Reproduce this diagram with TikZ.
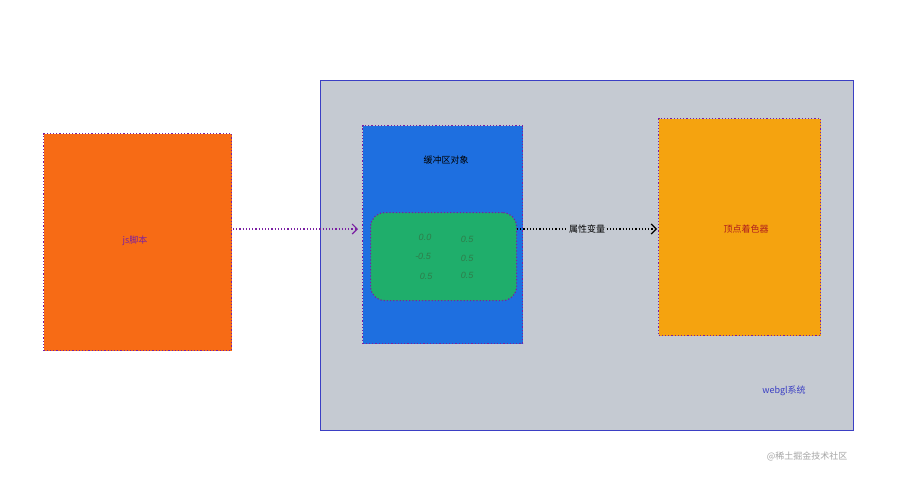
\documentclass[tikz,border=0pt]{standalone}
\usepackage{fontspec}
\setmainfont{Liberation Sans}
\newfontfamily\cjk{Noto Sans CJK SC}
\usetikzlibrary{arrows.meta}
\definecolor{jsor}{HTML}{F76B15}
\definecolor{sysbg}{HTML}{C5CAD2}
\definecolor{sysln}{HTML}{3B3FC4}
\definecolor{bufbl}{HTML}{1E6FE0}
\definecolor{grn}{HTML}{1FAE6B}
\definecolor{shor}{HTML}{F5A30F}
\definecolor{purp}{HTML}{7A1FA2}
\definecolor{numg}{HTML}{2E7D4A}
\tikzset{
 dotbox/.style={draw=purp, line width=1.2pt, dotted},
 num/.style={text=numg, font=\itshape\small},
 lbl/.style={font=\cjk\small}
}
\begin{document}
\begin{tikzpicture}[x=1pt,y=-1pt]
\useasboundingbox[fill=white] (0,0) rectangle (902,483);
\node[draw=sysln, line width=1.2pt, fill=sysbg, minimum width=533, minimum height=350, anchor=north west, inner sep=0] (sys) at (320,80) {};
\node[dotbox, fill=jsor, minimum width=188, minimum height=217, anchor=north west, inner sep=0] (js) at (43,133) {};
\node[dotbox, fill=bufbl, minimum width=160, minimum height=218, anchor=north west, inner sep=0] (buf) at (362,125) {};
\node[dotbox, fill=grn, rounded corners=14pt, minimum width=146, minimum height=88, anchor=north west, inner sep=0] (grn) at (370,212) {};
\node[dotbox, fill=shor, minimum width=162, minimum height=217, anchor=north west, inner sep=0] (sh) at (658,118) {};
\node[lbl, text=purp] (jst) at (135,241) {js脚本};
\node[lbl, text=black] (buft) at (446,160) {缓冲区对象};
\node[lbl, text={rgb,255:red,176;green,30;blue,30}] (sht) at (746,229) {顶点着色器};
\node[lbl, text=sysln] (syst) at (784,391) {webgl系统};
\node[font=\cjk\small, text=gray!70] (wm) at (807,456) {@稀土掘金技术社区};
\node[num] (n1) at (425,237) {0.0};
\node[num] (n2) at (467,239) {0.5};
\node[num] (n3) at (423,256) {-0.5};
\node[num] (n4) at (467,258) {0.5};
\node[num] (n5) at (426,276) {0.5};
\node[num] (n6) at (467,275) {0.5};
\coordinate (a1) at (233,229);
\coordinate (a2) at (358,229);
\draw[purp, line width=1.2pt, dotted, -{Straight Barb[length=5pt]}] (a1) -- (a2);
\coordinate (b1) at (517,229);
\coordinate (b2) at (657,229);
\draw[black, line width=1.2pt, dotted, -{Straight Barb[length=5pt]}] (b1) -- node[lbl, fill=sysbg, inner sep=1pt, text=black] (pv) {属性变量} (b2);
\end{tikzpicture}
\end{document}
